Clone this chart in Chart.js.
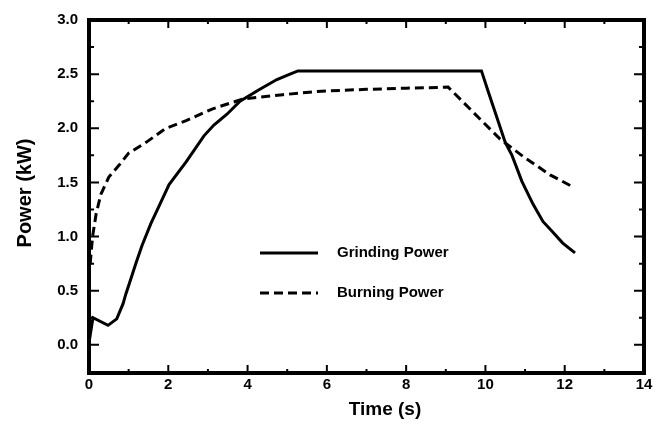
<!DOCTYPE html>
<html>
<head>
<meta charset="utf-8">
<script src="https://cdn.jsdelivr.net/npm/chart.js@4"></script>
<style>
    html, body { margin: 0; padding: 0; background: #fff; }
    #wrap { width: 662px; height: 434px; }
</style>
</head>
<body>
<div id="wrap"><canvas id="power-chart" width="662" height="434"></canvas></div>
<script>
// Grinding power (solid line)
const grindTime = [0.0, 0.1, 0.48, 0.7, 0.86, 0.93, 1.03, 1.19, 1.34, 1.56, 1.79, 2.02, 2.45, 2.9, 3.15, 3.48, 3.81, 4.31, 4.74, 5.07, 5.27, 9.9, 10.07, 10.5, 10.67, 10.92, 11.2, 11.45, 11.68, 11.95, 12.26];
const grindPower = [0.02, 0.25, 0.18, 0.24, 0.38, 0.47, 0.58, 0.76, 0.92, 1.12, 1.30, 1.48, 1.69, 1.93, 2.03, 2.13, 2.25, 2.36, 2.45, 2.50, 2.53, 2.53, 2.34, 1.87, 1.75, 1.51, 1.30, 1.14, 1.05, 0.94, 0.85];

// Burning power (dashed line)
const burnTime = [0.03, 0.09, 0.18, 0.3, 0.5, 0.76, 1.0, 1.44, 1.94, 2.45, 3.12, 3.88, 4.89, 5.75, 7.0, 8.0, 9.06, 10.37, 10.95, 11.63, 12.2];
const burnPower = [0.75, 1.0, 1.21, 1.39, 1.55, 1.66, 1.77, 1.87, 2.0, 2.07, 2.18, 2.27, 2.31, 2.34, 2.36, 2.37, 2.38, 1.90, 1.74, 1.57, 1.46];

// Axis ticks
const xTicks = [0, 2, 4, 6, 8, 10, 12, 14];
const yTicks = [0.0, 0.5, 1.0, 1.5, 2.0, 2.5, 3.0];

const legendLabels = ['Grinding Power', 'Burning Power'];

const toPoints = (xs, ys) => xs.map((x, i) => ({ x: x, y: ys[i] }));

// Frame, inward ticks, titles and legend
const framePlugin = {
    id: 'frame',
    afterDraw(chart) {
        const ctx = chart.ctx;
        const area = chart.chartArea;
        const xs = chart.scales.x;
        const ys = chart.scales.y;
        ctx.save();
        ctx.strokeStyle = '#000';

        // ticks pointing into the plot
        ctx.lineWidth = 2;
        for (let v = 0; v <= 14; v += 1) {
            const px = xs.getPixelForValue(v);
            const len = v % 2 === 0 ? 8 : 4;
            ctx.beginPath();
            ctx.moveTo(px, area.bottom);
            ctx.lineTo(px, area.bottom - len);
            ctx.moveTo(px, area.top);
            ctx.lineTo(px, area.top + len);
            ctx.stroke();
        }
        for (let v = -0.25; v <= 3.0; v += 0.25) {
            const py = ys.getPixelForValue(v);
            const major = Math.abs(v * 2 - Math.round(v * 2)) < 1e-6;
            const len = major ? 10 : 5;
            ctx.beginPath();
            ctx.moveTo(area.left, py);
            ctx.lineTo(area.left + len, py);
            ctx.moveTo(area.right, py);
            ctx.lineTo(area.right - len, py);
            ctx.stroke();
        }

        // thick box
        ctx.lineWidth = 4;
        ctx.strokeRect(area.left, area.top, area.right - area.left, area.bottom - area.top);

        // axis titles
        ctx.fillStyle = '#000';
        ctx.font = 'bold 19px "Liberation Sans", Arial, sans-serif';
        ctx.textAlign = 'center';
        ctx.textBaseline = 'middle';
        ctx.fillText('Time (s)', 385, 410);
        ctx.save();
        ctx.translate(25, 193);
        ctx.rotate(-Math.PI / 2);
        ctx.font = 'bold 20px "Liberation Sans", Arial, sans-serif';
        ctx.fillText('Power (kW)', 0, 0);
        ctx.restore();

        // legend inside plot
        const rows = [253, 293];
        chart.data.datasets.forEach((ds, i) => {
            ctx.save();
            ctx.lineWidth = ds.borderWidth;
            ctx.setLineDash(ds.borderDash || []);
            ctx.beginPath();
            ctx.moveTo(260, rows[i]);
            ctx.lineTo(318, rows[i]);
            ctx.stroke();
            ctx.restore();
            ctx.font = 'bold 15px "Liberation Sans", Arial, sans-serif';
            ctx.textAlign = 'left';
            ctx.fillText(ds.label, 337, rows[i]);
        });
        ctx.restore();
    }
};

new Chart(document.getElementById('power-chart'), {
    type: 'line',
    data: {
        datasets: [{
            label: legendLabels[0],
            data: toPoints(grindTime, grindPower),
            borderColor: '#000',
            borderWidth: 3,
            pointRadius: 0,
            tension: 0,
            fill: false,
        }, {
            label: legendLabels[1],
            data: toPoints(burnTime, burnPower),
            borderColor: '#000',
            borderWidth: 3,
            borderDash: [9, 5],
            pointRadius: 0,
            tension: 0,
            fill: false,
        }],
    },
    options: {
        responsive: false,
        animation: false,
        layout: { padding: { top: 17, right: 18, left: 0, bottom: 0 } },
        plugins: {
            legend: { display: false },
            tooltip: { enabled: false },
        },
        scales: {
            x: {
                type: 'linear',
                min: 0,
                max: 14,
                afterBuildTicks: (scale) => { scale.ticks = xTicks.map((v) => ({ value: v })); },
                afterFit: (scale) => { scale.height = 61; },
                grid: { display: false, drawTicks: false },
                border: { display: false },
                ticks: {
                    color: '#000',
                    padding: 3,
                    maxRotation: 0,
                    font: { family: '"Liberation Sans", Arial, sans-serif', size: 15, weight: 'bold' },
                },
            },
            y: {
                type: 'linear',
                min: -0.26,
                max: 3.0,
                afterBuildTicks: (scale) => { scale.ticks = yTicks.map((v) => ({ value: v })); },
                afterFit: (scale) => { scale.width = 89; },
                grid: { display: false, drawTicks: false },
                border: { display: false },
                ticks: {
                    color: '#000',
                    padding: 11,
                    callback: (v) => Number(v).toFixed(1),
                    font: { family: '"Liberation Sans", Arial, sans-serif', size: 15, weight: 'bold' },
                },
            },
        },
    },
    plugins: [framePlugin],
});
</script>
</body>
</html>
